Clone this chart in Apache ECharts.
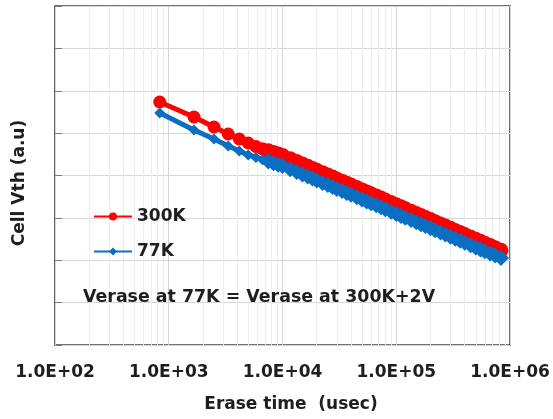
<!DOCTYPE html>
<html>
<head>
<meta charset="utf-8">
<script src="https://cdn.jsdelivr.net/npm/echarts@6/dist/echarts.min.js"></script>
<style>
  html, body { margin: 0; padding: 0; background: #ffffff; }
  #chart { width: 553px; height: 419px; }
</style>
</head>
<body>
<div id="chart"></div>
<script>
// Erase time (usec) of each measurement step
const eraseTimeUs = [
  833, 1667, 2500, 3333, 4167, 5000, 5833, 6667, 7500, 8333, 9167, 10000,
  11667, 13333, 15000, 16667, 18333, 20000, 22500, 25000, 27500, 30000,
  33333, 36667, 40000, 45000, 50000, 55000, 60000, 66667, 73333, 80000,
  90000, 100000, 110000, 120000, 135000, 150000, 165000, 180000, 200000,
  220000, 245000, 270000, 300000, 330000, 365000, 400000, 450000, 500000,
  550000, 600000, 670000, 740000, 833000
];

// Cell Vth (a.u) at 300K
const vth300K = [
  5.735, 5.381, 5.145, 4.979, 4.861, 4.767, 4.684, 4.630, 4.585, 4.545, 4.507, 4.474,
  4.397, 4.328, 4.269, 4.217, 4.168, 4.125, 4.064, 4.010, 3.962, 3.917,
  3.866, 3.816, 3.774, 3.715, 3.660, 3.613, 3.568, 3.514, 3.467, 3.422,
  3.363, 3.309, 3.261, 3.217, 3.158, 3.103, 3.056, 3.011, 2.959,
  2.910, 2.855, 2.806, 2.754, 2.704, 2.655, 2.608, 2.549, 2.494,
  2.447, 2.402, 2.348, 2.296, 2.237
];

// Cell Vth (a.u) at 77K
const vth77K = [
  5.475, 5.074, 4.861, 4.696, 4.578, 4.484, 4.425, 4.373, 4.330, 4.290, 4.255, 4.224,
  4.149, 4.083, 4.026, 3.974, 3.927, 3.884, 3.825, 3.773, 3.726, 3.684,
  3.634, 3.587, 3.545, 3.486, 3.434, 3.389, 3.344, 3.295, 3.248, 3.205,
  3.146, 3.094, 3.047, 3.004, 2.948, 2.896, 2.849, 2.806, 2.754,
  2.707, 2.655, 2.608, 2.556, 2.509, 2.459, 2.414, 2.355, 2.303,
  2.256, 2.214, 2.162, 2.112, 2.053
];

const seriesNames = ['300K', '77K'];
const xTickLabels = ['1.0E+02', '1.0E+03', '1.0E+04', '1.0E+05', '1.0E+06'];
const xTitle = 'Erase time  (usec)';
const yTitle = 'Cell Vth (a.u)';
const note = 'Verase at 77K = Verase at 300K+2V';

const FONT = 'DejaVu Sans';
const TEXT = '#1e1e1e';

// minor log grid positions: 2..9 x each decade between 1e2 and 1e6
const minorGrid = [];
for (let e = 2; e < 6; e++) {
  for (let m = 2; m <= 9; m++) minorGrid.push({ xAxis: m * Math.pow(10, e) });
}

const pairs = arr => eraseTimeUs.map((t, i) => [t, arr[i]]);

const chart = echarts.init(document.getElementById('chart'), null, { renderer: 'canvas' });

chart.setOption({
  animation: false,
  backgroundColor: '#ffffff',
  grid: {
    left: 55, right: 43, top: 6, bottom: 74,
    show: true, borderColor: '#454545', borderWidth: 1.6, backgroundColor: 'transparent'
  },
  xAxis: {
    type: 'log', logBase: 10, min: 100, max: 1000000,
    axisLine: { show: false },
    axisTick: { show: false },
    splitLine: { show: true, lineStyle: { color: '#d6d6d6', width: 1 } },
    axisLabel: {
      margin: 19, color: TEXT, fontFamily: FONT, fontWeight: 'bold', fontSize: 17,
      showMinLabel: true, showMaxLabel: true,
      formatter: v => xTickLabels[Math.round(Math.log10(v)) - 2]
    }
  },
  yAxis: {
    type: 'value', min: 0, max: 8, interval: 1,
    axisLine: { show: false },
    axisTick: { show: true, inside: true, length: 7, lineStyle: { color: '#7a7a7a' } },
    axisLabel: { show: false },
    splitLine: { show: true, lineStyle: { color: '#d6d6d6', width: 1 } }
  },
  legend: {
    data: seriesNames,
    orient: 'vertical',
    left: 88, top: 203,
    itemWidth: 38, itemHeight: 10, itemGap: 18,
    textStyle: { color: TEXT, fontFamily: FONT, fontWeight: 'bold', fontSize: 17 }
  },
  series: [
    {
      name: 'minor-grid', type: 'line', data: [], silent: true, z: 0,
      markLine: {
        silent: true, symbol: 'none', z: 0, animation: false,
        label: { show: false },
        lineStyle: { color: '#ececec', width: 1, type: 'solid' },
        data: minorGrid
      }
    },
    {
      name: seriesNames[0], type: 'line', data: pairs(vth300K),
      color: '#ff0000',
      symbol: 'circle',
      symbolSize: (v, p) => (p.dataIndex < 8 ? 13 : 15),
      lineStyle: { width: 5, color: '#ff0000' },
      itemStyle: { color: '#ff0000' },
      z: 3
    },
    {
      name: seriesNames[1], type: 'line', data: pairs(vth77K),
      color: '#0a6fc2',
      symbol: 'diamond',
      symbolSize: (v, p) => (p.dataIndex < 8 ? 11 : 16),
      lineStyle: { width: 5, color: '#0a6fc2' },
      itemStyle: { color: '#0a6fc2' },
      z: 4
    }
  ],
  graphic: [
    {
      type: 'text', x: 83, y: 297, z: 100,
      style: { text: note, fill: TEXT, font: 'bold 17.4px "DejaVu Sans"', textAlign: 'left', textVerticalAlign: 'middle' }
    },
    {
      type: 'text', x: 291, y: 405, z: 100,
      style: { text: xTitle, fill: TEXT, font: 'bold 17px "DejaVu Sans"', textAlign: 'center', textVerticalAlign: 'middle' }
    },
    {
      type: 'text', x: 20, y: 183, rotation: Math.PI / 2, z: 100,
      style: { text: yTitle, fill: TEXT, font: 'bold 17px "DejaVu Sans"', textAlign: 'center', textVerticalAlign: 'middle' }
    }
  ]
});
</script>
</body>
</html>
